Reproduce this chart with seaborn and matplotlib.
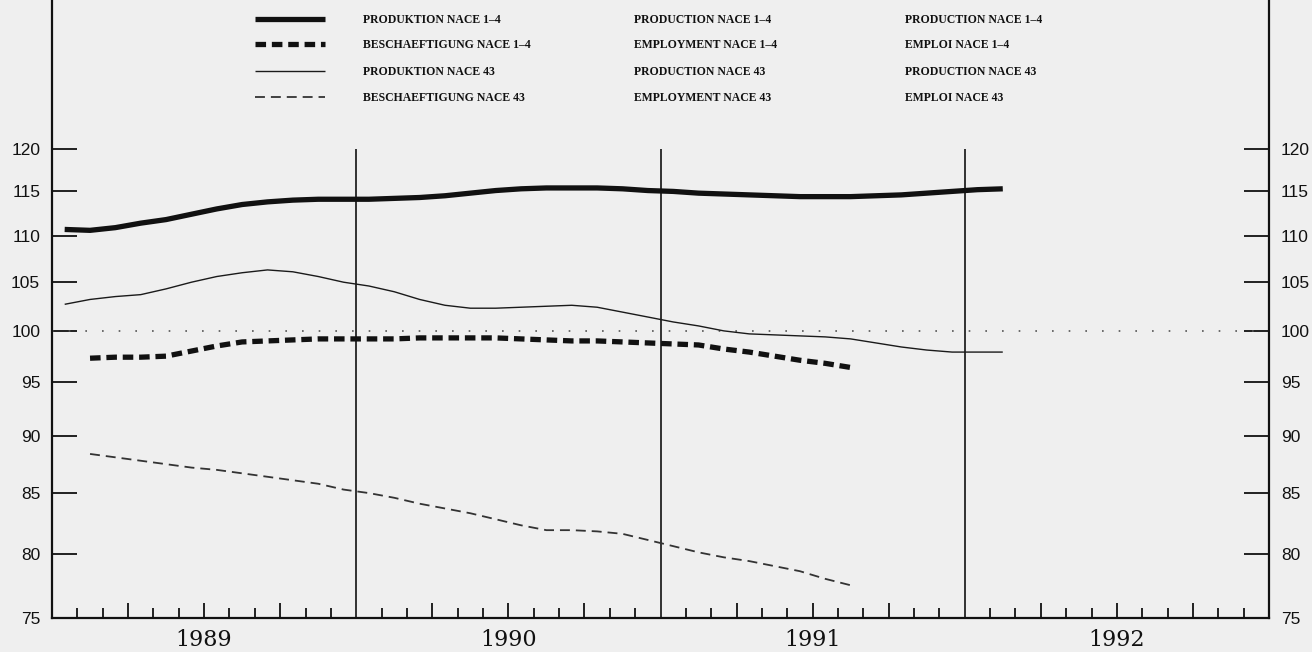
import numpy as np
import pandas as pd
import matplotlib
matplotlib.use("Agg")
import matplotlib.pyplot as plt
import seaborn as sns
from matplotlib.lines import Line2D
from matplotlib.ticker import FixedLocator, NullLocator, FixedFormatter

# ---------------- data (monthly, index values) ----------------
start_year = 1989
prod_14 = [110.7, 110.6, 110.9, 111.4, 111.8, 112.4, 113.0, 113.5, 113.8, 114.0,
           114.1, 114.1, 114.1, 114.2, 114.3, 114.5, 114.8, 115.1, 115.3, 115.4,
           115.4, 115.4, 115.3, 115.1, 115.0, 114.8, 114.7, 114.6, 114.5, 114.4,
           114.4, 114.4, 114.5, 114.6, 114.8, 115.0, 115.2, 115.3]          # Jan89..Feb92
prod_43 = [102.7, 103.2, 103.5, 103.7, 104.3, 105.0, 105.6, 106.0, 106.3, 106.1,
           105.6, 105.0, 104.6, 104.0, 103.2, 102.6, 102.3, 102.3, 102.4, 102.5,
           102.6, 102.4, 101.9, 101.4, 100.9, 100.5, 100.0, 99.7, 99.6, 99.5,
           99.4, 99.2, 98.8, 98.4, 98.1, 97.9, 97.9, 97.9]                  # Jan89..Feb92
empl_14 = [97.3, 97.4, 97.4, 97.5, 98.0, 98.5, 98.9, 99.0, 99.1, 99.2,
           99.2, 99.2, 99.2, 99.3, 99.3, 99.3, 99.3, 99.2, 99.1, 99.0,
           99.0, 98.9, 98.8, 98.7, 98.6, 98.2, 97.9, 97.5, 97.1, 96.8, 96.4]  # Feb89..Aug91
empl_43 = [88.4, 88.1, 87.8, 87.5, 87.2, 87.0, 86.7, 86.4, 86.1, 85.8,
           85.3, 85.0, 84.6, 84.1, 83.7, 83.3, 82.8, 82.3, 81.9, 81.9,
           81.8, 81.6, 81.1, 80.6, 80.1, 79.7, 79.4, 79.0, 78.6, 78.0, 77.5]  # Feb89..Aug91
empl_start = 1  # month offset of employment series

years = [1989, 1990, 1991, 1992]
y_ticks = [75, 80, 85, 90, 95, 100, 105, 110, 115, 120]

labels_de = ["PRODUKTION NACE 1–4", "BESCHAEFTIGUNG NACE 1–4",
             "PRODUKTION NACE 43", "BESCHAEFTIGUNG NACE 43"]
labels_en = ["PRODUCTION NACE 1–4", "EMPLOYMENT NACE 1–4",
             "PRODUCTION NACE 43", "EMPLOYMENT NACE 43"]
labels_fr = ["PRODUCTION NACE 1–4", "EMPLOI NACE 1–4",
             "PRODUCTION NACE 43", "EMPLOI NACE 43"]


def month_x(n, offset=0):
    return start_year + (np.arange(n) + offset + 0.5) / 12.0


frames = [
    pd.DataFrame({"t": month_x(len(prod_14)), "v": prod_14, "s": labels_de[0]}),
    pd.DataFrame({"t": month_x(len(empl_14), empl_start), "v": empl_14, "s": labels_de[1]}),
    pd.DataFrame({"t": month_x(len(prod_43)), "v": prod_43, "s": labels_de[2]}),
    pd.DataFrame({"t": month_x(len(empl_43), empl_start), "v": empl_43, "s": labels_de[3]}),
]

styles = [
    dict(lw=3.8, color="#111111", ls="-"),
    dict(lw=3.8, color="#111111", ls=(0, (2.0, 1.1))),
    dict(lw=1.0, color="#1a1a1a", ls="-"),
    dict(lw=1.3, color="#333333", ls=(0, (5.5, 3.3))),
]

# ---------------- figure ----------------
sns.set_theme(style="white")
bg = "#efefef"
fig = plt.figure(figsize=(13.12, 6.52), dpi=100, facecolor=bg)
W, H = 1312, 652
ax = fig.add_axes([52 / W, (H - 618) / H, (1269 - 52) / W, 618 / H])
ax.set_facecolor(bg)

for df, st in zip(frames, styles):
    sns.lineplot(data=df, x="t", y="v", ax=ax, color=st["color"],
                 linewidth=st["lw"], linestyle=st["ls"], legend=False,
                 dash_capstyle="butt", solid_capstyle="butt")

ax.set_yscale("log")
ax.set_ylim(75, 75 * np.exp(618 / 998))
ax.set_xlim(1989, 1993)
ax.set_xlabel("")
ax.set_ylabel("")

# reference line at 100 and year separators
ax.axhline(100, color="#555555", lw=1.2, ls=(0, (1, 9)), zorder=1)
ax.vlines(years[1:], 75, 120, color="#111111", lw=1.2, zorder=1)

# y axis (both sides)
ax.yaxis.set_major_locator(FixedLocator(y_ticks))
ax.yaxis.set_major_formatter(FixedFormatter([str(v) for v in y_ticks]))
ax.yaxis.set_minor_locator(NullLocator())
ax.tick_params(axis="y", which="major", direction="in", length=18, width=1.3,
               left=True, right=True, labelleft=True, labelright=True,
               pad=8.5, labelsize=12.5, colors="#111111")
for lab in ax.get_yticklabels():
    lab.set_family("Liberation Sans")

# x axis: quarter ticks (major) and month ticks (minor)
quarters = [y + q for y in years for q in (0.25, 0.5, 0.75)]
months = [y + m / 12 for y in years for m in range(1, 12) if m % 3 != 0]
ax.xaxis.set_major_locator(FixedLocator(quarters))
ax.xaxis.set_minor_locator(FixedLocator(months))
ax.tick_params(axis="x", which="major", direction="in", length=11, width=1.3,
               bottom=True, top=False, labelbottom=False, colors="#111111")
ax.tick_params(axis="x", which="minor", direction="in", length=7, width=1.3,
               bottom=True, top=False, colors="#111111")

sec = ax.secondary_xaxis("bottom")
sec.set_xticks([y + 0.5 for y in years])
sec.set_xticklabels([str(y) for y in years])
sec.tick_params(length=0, pad=8, labelsize=16, colors="#111111")
for lab in sec.get_xticklabels():
    lab.set_family("DejaVu Serif")
sec.spines["bottom"].set_visible(False)

for side in ("left", "right", "bottom"):
    ax.spines[side].set_visible(True)
    ax.spines[side].set_color("#111111")
    ax.spines[side].set_linewidth(1.6)
ax.spines["top"].set_visible(False)

# legend block (samples + three language columns)
rows_y = [19, 44, 71, 97]
for st, yy in zip(styles, rows_y):
    fy = 1 - yy / H
    fig.add_artist(Line2D([255 / W, 325 / W], [fy, fy], transform=fig.transFigure,
                          color=st["color"], lw=st["lw"], ls=st["ls"],
                          dash_capstyle="butt", solid_capstyle="butt"))
for col_x, labs in zip([363, 634, 905], [labels_de, labels_en, labels_fr]):
    for lab, yy in zip(labs, rows_y):
        fig.text(col_x / W, 1 - (yy + 1) / H, lab, ha="left", va="center",
                 fontsize=8.5, fontweight="bold", family="Liberation Serif",
                 color="#111111")

fig.savefig("out.png", dpi=100, facecolor=bg)
